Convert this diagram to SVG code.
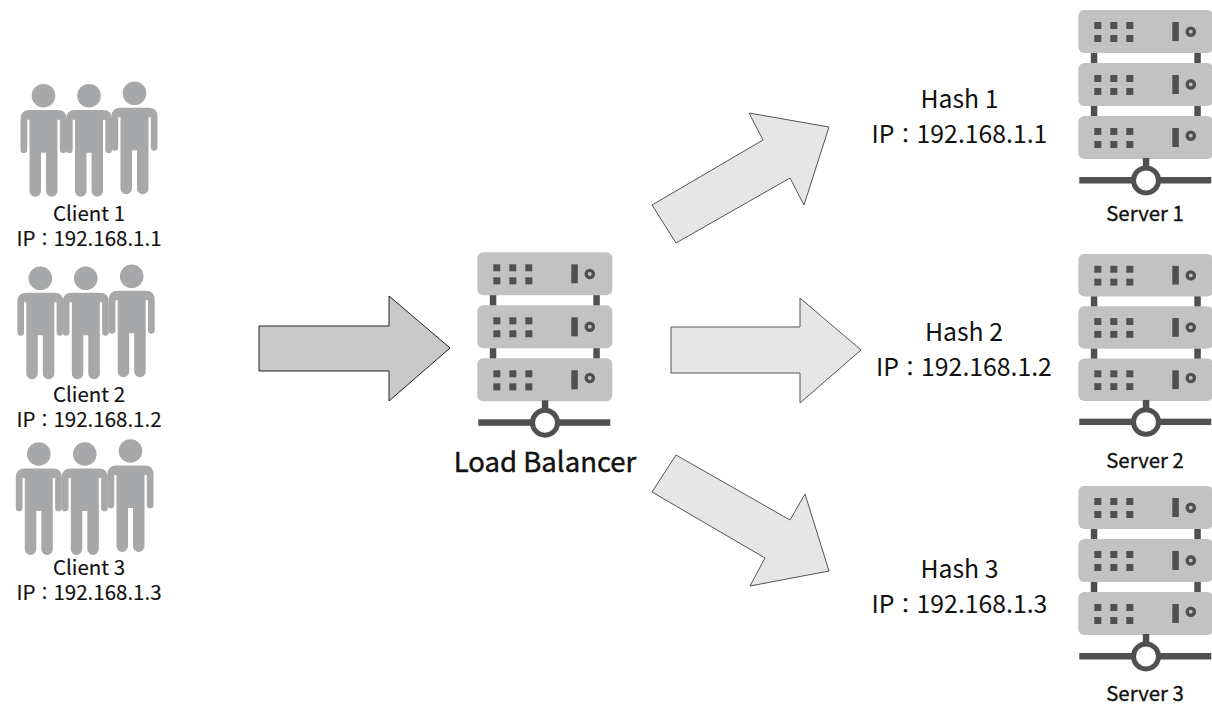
<svg xmlns="http://www.w3.org/2000/svg" width="1212" height="708" viewBox="0 0 1212 708">
<style>
text{font-family:"Noto Sans CJK TC","Noto Sans CJK SC",sans-serif;fill:#111;text-anchor:middle}
.c{font-size:20.5px;stroke:#111;stroke-width:.15}.c .k{font-size:18px}
.h{font-size:24.8px}.h .k{font-size:22px}
.s{font-size:20.4px;stroke:#111;stroke-width:.3}.l{font-size:27.5px;stroke:#111;stroke-width:.45}
.box{fill:#c2c2c2}.dk{fill:#505050}.p{fill:#a7a8aa}
.dot{fill:#c2c2c2;stroke:#505050;stroke-width:3.4}
.main{fill:#c9c9c9;stroke:#222;stroke-width:1}.sec{fill:#e6e6e6;stroke:#555;stroke-width:1}
</style>
<defs>
<g id="unit">
<rect class="box" x="0" y="0" width="135" height="43" rx="6"/>
<rect class="dk" x="16" y="12" width="7" height="7"/><rect class="dk" x="32" y="12" width="7" height="7"/><rect class="dk" x="48" y="12" width="7" height="7"/>
<rect class="dk" x="16" y="25" width="7" height="7"/><rect class="dk" x="32" y="25" width="7" height="7"/><rect class="dk" x="48" y="25" width="7" height="7"/>
<rect class="dk" x="94" y="12" width="6.5" height="19"/>
</g>
<g id="server">
<rect class="dk" x="12.5" y="40" width="6.5" height="16"/><rect class="dk" x="116" y="40" width="6.5" height="16"/>
<rect class="dk" x="12.5" y="93" width="6.5" height="16"/><rect class="dk" x="116" y="93" width="6.5" height="16"/>
<use href="#unit"/><use href="#unit" y="53"/><use href="#unit" y="106"/>
<circle class="dot" cx="112.5" cy="21.7" r="3.6"/><circle class="dot" cx="112.5" cy="74.4" r="3.6"/><circle class="dot" cx="112.5" cy="125.7" r="3.6"/>
<rect class="dk" x="64.5" y="148" width="6.5" height="12"/>
<rect class="dk" x="1" y="167" width="132" height="6.5"/>
<circle cx="67.7" cy="170.4" r="12.5" fill="#fff" stroke="#505050" stroke-width="5"/>
</g>
<g id="person">
<circle class="p" cx="0" cy="0" r="11.8"/>
<path class="p" d="M-14,14.4H14Q23,14.4 23,23.4V54a3.35,3.35 0 0 1-6.7,0V24H14V95.2a5.75,5.75 0 0 1-11.5,0V57H-2.5V95.2a5.75,5.75 0 0 1-11.5,0V24H-16.3V54a3.35,3.35 0 0 1-6.7,0V23.4Q-23,14.4-14,14.4Z"/>
</g>
</defs>
<g id="connectors">
<polygon class="main" points="259,326 389,326 389,296 450,348 389,401 389,371 259,371"/>
<polygon class="sec" points="652,205 763,140 749,113 829,127 804,205 790,178 676,243"/>
<polygon class="sec" points="671,327 800,327 800,298 861,350 800,403 800,373 671,373"/>
<polygon class="sec" points="652,492 676,455 790,520 805,494 829,571 750,586 765,558"/>
</g>
<g id="client1"><use href="#person" x="43.5" y="95.7"/><use href="#person" x="89" y="95.7"/><use href="#person" x="134.5" y="93.3"/><text class="c" x="89" y="221">Client 1</text><text class="c" x="89" y="245.5">IP<tspan class="k">：</tspan>192.168.1.1</text></g>
<g id="client2"><use href="#person" x="40.3" y="278.3"/><use href="#person" x="85.8" y="278.3"/><use href="#person" x="131.7" y="276.3"/><text class="c" x="89" y="401.5">Client 2</text><text class="c" x="89" y="426.5">IP<tspan class="k">：</tspan>192.168.1.2</text></g>
<g id="client3"><use href="#person" x="38.8" y="454"/><use href="#person" x="84.8" y="454"/><use href="#person" x="130.5" y="451"/><text class="c" x="89" y="575">Client 3</text><text class="c" x="89" y="600">IP<tspan class="k">：</tspan>192.168.1.3</text></g>
<g id="loadbalancer"><use href="#server" x="477.3" y="252.3"/><text class="l" x="545" y="472">Load Balancer</text></g>
<g id="hash1"><text class="h" x="959.5" y="108">Hash 1</text><text class="h" x="959.5" y="143">IP<tspan class="k">：</tspan>192.168.1.1</text></g>
<g id="hash2"><text class="h" x="964" y="341">Hash 2</text><text class="h" x="964" y="376">IP<tspan class="k">：</tspan>192.168.1.2</text></g>
<g id="hash3"><text class="h" x="959.5" y="578">Hash 3</text><text class="h" x="959.5" y="613">IP<tspan class="k">：</tspan>192.168.1.3</text></g>
<g id="server1"><use href="#server" x="1078.3" y="10"/><text class="s" x="1145" y="221">Server 1</text></g>
<g id="server2"><use href="#server" transform="translate(1078.3 254) scale(1 .986)"/><text class="s" x="1145" y="468">Server 2</text></g>
<g id="server3"><use href="#server" x="1078.3" y="486"/><text class="s" x="1145" y="701">Server 3</text></g>
</svg>
